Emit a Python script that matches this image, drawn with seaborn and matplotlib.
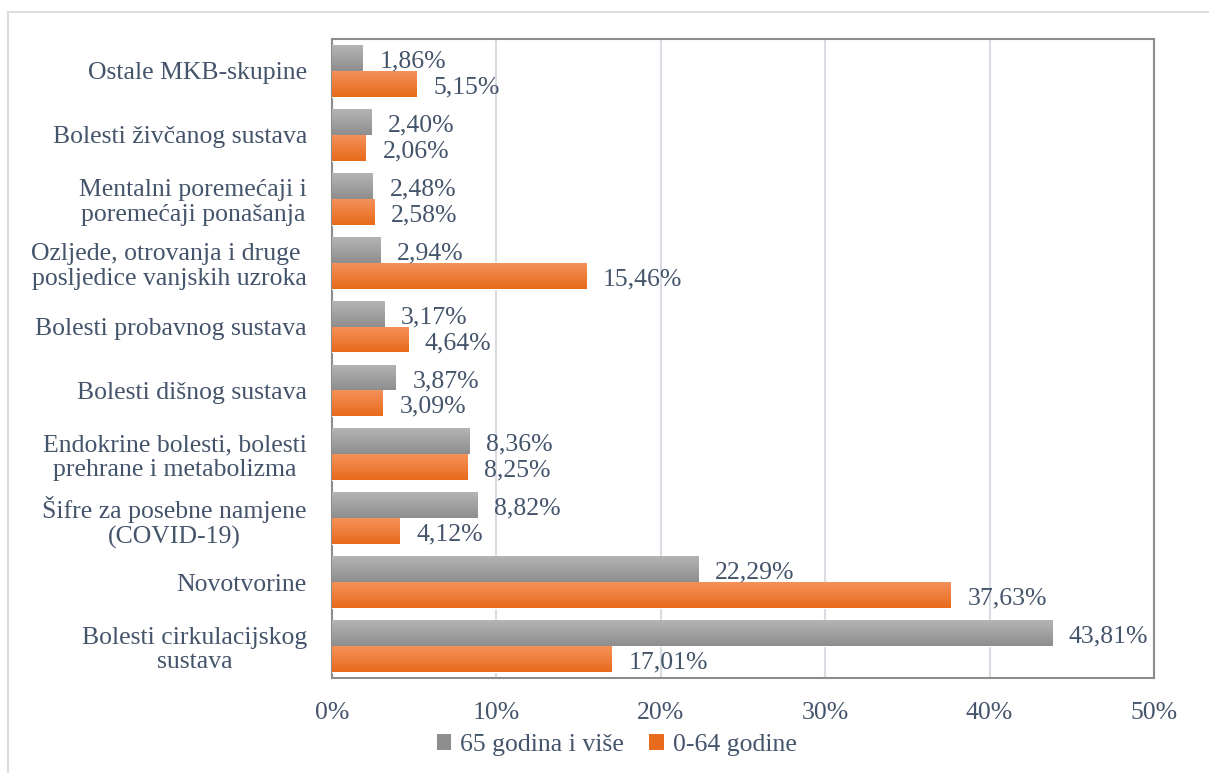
import numpy as np
import pandas as pd
import seaborn as sns
import matplotlib
matplotlib.use("Agg")
from matplotlib import pyplot as plt
from matplotlib.patches import Rectangle, Patch
from matplotlib.colors import LinearSegmentedColormap

# data (percent), top to bottom
categories = [
    "Ostale MKB-skupine",
    "Bolesti živčanog sustava",
    "Mentalni poremećaji i\nporemećaji ponašanja",
    "Ozljede, otrovanja i druge \nposljedice vanjskih uzroka",
    "Bolesti probavnog sustava",
    "Bolesti dišnog sustava",
    "Endokrine bolesti, bolesti\nprehrane i metabolizma",
    "Šifre za posebne namjene\n(COVID-19)",
    "Novotvorine",
    "Bolesti cirkulacijskog\nsustava",
]
stariji = [1.86, 2.40, 2.48, 2.94, 3.17, 3.87, 8.36, 8.82, 22.29, 43.81]
mladji = [5.15, 2.06, 2.58, 15.46, 4.64, 3.09, 8.25, 4.12, 37.63, 17.01]
series = ["65 godina i više", "0-64 godine"]
xticks = [0, 10, 20, 30, 40, 50]

df = pd.DataFrame({
    "kategorija": categories * 2,
    "skupina": [series[0]] * len(categories) + [series[1]] * len(categories),
    "udio": stariji + mladji,
})

txt = "#44546A"
gray_top, gray_bot = "#B4B4B4", "#8E8E8E"
orange_top, orange_bot = "#F4925A", "#E86A1C"
fs = 18.5

sns.set_style("white")
plt.rcParams["font.family"] = ["Liberation Serif", "DejaVu Serif"]
plt.rcParams["font.size"] = fs

fig = plt.figure(figsize=(12.09, 7.73), dpi=100)
ax = fig.add_axes([332 / 1209, 1 - 678 / 773, (1154 - 332) / 1209, (678 - 39) / 773])

sns.barplot(data=df, x="udio", y="kategorija", hue="skupina", order=categories,
            hue_order=series, palette=[gray_bot, orange_bot], orient="h",
            width=0.81, ax=ax, legend=False, zorder=3)

ax.set_xlim(0, 50)
xl, yl = ax.get_xlim(), ax.get_ylim()

# gradient fill, light at the top of each bar
cmaps = [LinearSegmentedColormap.from_list("g", [gray_top, gray_bot]),
         LinearSegmentedColormap.from_list("o", [orange_top, orange_bot])]
grad = np.linspace(0, 1, 64).reshape(-1, 1)
for cont, cm in zip(ax.containers, cmaps):
    for p in cont:
        x0, y0 = p.get_x(), p.get_y()
        w, h = p.get_width(), p.get_height()
        im = ax.imshow(grad, cmap=cm, aspect="auto", origin="upper",
                       extent=(x0, x0 + w, y0 + h, y0), zorder=4,
                       interpolation="bilinear")
        im.set_clip_path(p)
ax.set_xlim(xl)
ax.set_ylim(yl)

for cont in ax.containers:
    anns = ax.bar_label(cont, labels=[f"{v:.2f}".replace(".", ",") + "%" for v in cont.datavalues],
                        padding=12, color=txt, fontsize=fs, zorder=5)
    for a in anns:
        a.xyann = (12, -2.5)

ax.set_xticks(xticks)
ax.set_xticklabels([f"{t}%" for t in xticks])
ax.xaxis.grid(True, color="#D9DCE3", linewidth=1.5, zorder=0)
ax.set_axisbelow(True)
ax.set_xlabel("")
ax.set_ylabel("")
ax.tick_params(axis="x", colors=txt, labelsize=fs, length=0, pad=17)
ax.tick_params(axis="y", colors=txt, labelsize=fs, length=0, pad=18)
for lab in ax.get_yticklabels():
    lab.set_multialignment("center")
    lab.set_linespacing(1.15)
for s in ax.spines.values():
    s.set_color("#8C8C8C")
    s.set_linewidth(1.5)
    s.set_visible(True)

handles = [Patch(facecolor=gray_bot, edgecolor="none"), Patch(facecolor=orange_bot, edgecolor="none")]
fig.legend(handles, series, loc="center", bbox_to_anchor=(0.51, 0.036), ncol=2,
           frameon=False, fontsize=fs, labelcolor=txt, handlelength=0.55, handleheight=0.55,
           handletextpad=0.35, columnspacing=1.0)

fig.patches.append(Rectangle((8 / 1209, -0.02), 1.0, 1 - 12 / 773 + 0.02, transform=fig.transFigure,
                             fill=False, edgecolor="#DDDDDD", linewidth=1.5))

fig.savefig("out.png", dpi=100)
